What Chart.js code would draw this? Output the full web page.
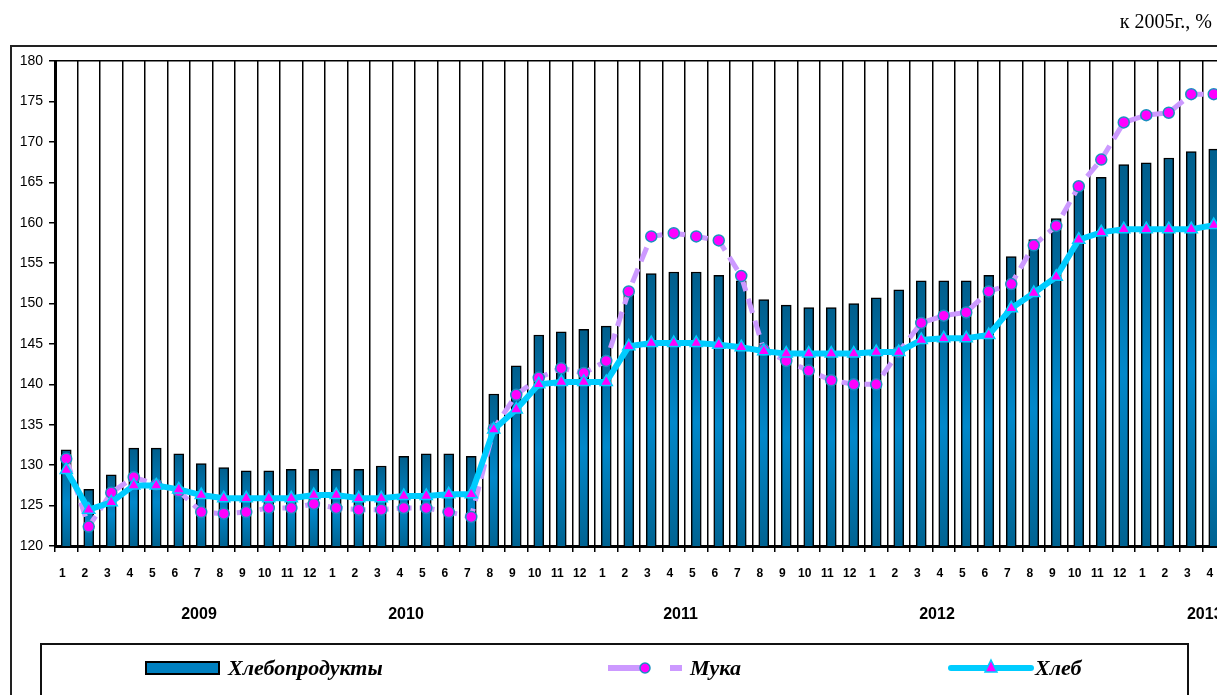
<!DOCTYPE html>
<html lang="ru">
<head>
<meta charset="utf-8">
<title>Хлебопродукты, мука, хлеб</title>
<script src="https://cdn.jsdelivr.net/npm/chart.js@4/dist/chart.umd.min.js"></script>
<style>
  html, body { margin: 0; padding: 0; background: #fff; overflow: hidden; }
  #wrap { position: relative; width: 1240px; height: 695px; }
</style>
</head>
<body>
<div id="wrap"><canvas id="chart"></canvas></div>
<script>
// месяцы 2009 - апрель 2013
const monthLabels = [
  '1','2','3','4','5','6','7','8','9','10','11','12',
  '1','2','3','4','5','6','7','8','9','10','11','12',
  '1','2','3','4','5','6','7','8','9','10','11','12',
  '1','2','3','4','5','6','7','8','9','10','11','12',
  '1','2','3','4'
];
const yearLabels = ['2009', '2010', '2011', '2012', '2013'];
const yearLabelAt = [5.9, 15.1, 27.3, 38.7, 50.6]; // индекс месяца, над которым стоит подпись года

const yTicks = [120, 125, 130, 135, 140, 145, 150, 155, 160, 165, 170, 175, 180];

// Хлебопродукты (столбцы)
const khleboprodukty = [
  131.9, 127.0, 128.8, 132.1, 132.1, 131.4, 130.2, 129.7, 129.3, 129.3, 129.5, 129.5,
  129.5, 129.5, 129.9, 131.1, 131.4, 131.4, 131.1, 138.8, 142.3, 146.1, 146.5, 146.8,
  147.2, 151.5, 153.7, 153.9, 153.9, 153.5, 152.8, 150.5, 149.8, 149.5, 149.5, 150.0,
  150.7, 151.7, 152.8, 152.8, 152.8, 153.5, 155.8, 157.9, 160.5, 164.8, 165.6, 167.2,
  167.4, 168.0, 168.8, 169.1
];

// Мука
const muka = [
  130.8, 122.4, 126.6, 128.5, 127.6, 126.8, 124.2, 124.0, 124.2, 124.7, 124.7, 125.2,
  124.7, 124.5, 124.5, 124.7, 124.7, 124.2, 123.6, 134.5, 138.7, 140.8, 142.0, 141.4,
  142.9, 151.5, 158.3, 158.7, 158.3, 157.8, 153.4, 144.3, 142.9, 141.7, 140.5, 140.0,
  140.0, 144.0, 147.6, 148.5, 148.9, 151.5, 152.4, 157.2, 159.6, 164.5, 167.8, 172.4,
  173.3, 173.6, 175.9, 175.9
];

// Хлеб
const khleb = [
  129.4, 124.5, 125.4, 127.5, 127.5, 127.0, 126.3, 125.9, 125.9, 125.9, 125.9, 126.3,
  126.3, 125.9, 125.9, 126.2, 126.2, 126.4, 126.4, 134.4, 136.9, 140.0, 140.3, 140.3,
  140.3, 144.7, 145.1, 145.1, 145.1, 144.9, 144.6, 144.1, 143.8, 143.8, 143.8, 143.8,
  144.0, 144.0, 145.5, 145.7, 145.7, 146.1, 149.4, 151.3, 153.3, 157.9, 158.8, 159.2,
  159.2, 159.2, 159.2, 159.7
];

const BAR_COLOR = '#0080c0';
const MUKA_COLOR = '#cc99ff';
const KHLEB_COLOR = '#00ccff';
const MARKER = '#ff00ff';
const SERIF = "'Liberation Serif', 'Times New Roman', serif";
const SANS = "'Liberation Sans', Arial, sans-serif";

Chart.defaults.font.family = SANS;
Chart.defaults.color = '#000';

// градиент столбца: темнее сверху и снизу, светлее ближе к низу
function barGradient(ctx) {
  const chart = ctx.chart;
  if (ctx.type !== 'data' || !chart.chartArea) return BAR_COLOR;
  const y = chart.scales.y;
  const top = y.getPixelForValue(ctx.raw);
  const bottom = y.bottom;
  const g = chart.ctx.createLinearGradient(0, top, 0, bottom);
  g.addColorStop(0, '#005e8c');
  g.addColorStop(0.55, '#0088cb');
  g.addColorStop(1, '#006392');
  return g;
}

// рамка, подпись единиц, годы и легенда
const decorPlugin = {
  id: 'decor',
  beforeDraw(chart) {
    const c = chart.ctx;
    c.save();
    c.fillStyle = '#fff';
    c.fillRect(0, 0, chart.width, chart.height);
    c.restore();
  },
  afterDraw(chart) {
    const c = chart.ctx;
    const x = chart.scales.x;
    c.save();

    // внешняя рамка
    c.strokeStyle = '#222';
    c.lineWidth = 2;
    c.beginPath();
    c.moveTo(11, chart.height);
    c.lineTo(11, 46);
    c.lineTo(chart.width, 46);
    c.stroke();

    // единицы
    c.fillStyle = '#000';
    c.font = '20px ' + SERIF;
    c.textAlign = 'right';
    c.textBaseline = 'alphabetic';
    c.fillText('к 2005г., %', 1212, 28);

    // годы
    c.font = 'bold 16px ' + SANS;
    c.textAlign = 'center';
    c.textBaseline = 'middle';
    yearLabels.forEach((t, i) => {
      c.fillText(t, x.getPixelForValue(yearLabelAt[i]), 615);
    });

    // легенда
    c.strokeStyle = '#111';
    c.lineWidth = 2;
    c.beginPath();
    c.moveTo(41, chart.height);
    c.lineTo(41, 644);
    c.lineTo(1188, 644);
    c.lineTo(1188, chart.height);
    c.stroke();

    const ly = 668;
    c.font = 'italic bold 22px ' + SERIF;
    c.textAlign = 'left';
    c.textBaseline = 'middle';

    // Хлебопродукты
    c.fillStyle = BAR_COLOR;
    c.fillRect(146, ly - 6, 73, 12);
    c.strokeStyle = '#000';
    c.lineWidth = 2;
    c.strokeRect(146, ly - 6, 73, 12);
    c.fillStyle = '#000';
    c.fillText(chart.data.datasets[0].label, 228, ly + 1);

    // Мука
    c.strokeStyle = MUKA_COLOR;
    c.lineWidth = 6;
    c.beginPath();
    c.moveTo(608, ly); c.lineTo(645, ly);
    c.moveTo(670, ly); c.lineTo(682, ly);
    c.stroke();
    c.beginPath();
    c.arc(645, ly, 5, 0, Math.PI * 2);
    c.fillStyle = MARKER;
    c.fill();
    c.strokeStyle = '#1a8fc0';
    c.lineWidth = 1.5;
    c.stroke();
    c.fillStyle = '#000';
    c.fillText(chart.data.datasets[1].label, 690, ly + 1);

    // Хлеб
    c.strokeStyle = KHLEB_COLOR;
    c.lineWidth = 6;
    c.lineCap = 'round';
    c.beginPath();
    c.moveTo(951, ly); c.lineTo(1031, ly);
    c.stroke();
    c.lineCap = 'butt';
    c.beginPath();
    c.moveTo(991, ly - 8);
    c.lineTo(997, ly + 4);
    c.lineTo(985, ly + 4);
    c.closePath();
    c.fillStyle = MARKER;
    c.fill();
    c.strokeStyle = KHLEB_COLOR;
    c.lineWidth = 1.5;
    c.stroke();
    c.fillStyle = '#000';
    c.fillText(chart.data.datasets[2].label, 1035, ly + 1);

    c.restore();
  }
};

new Chart(document.getElementById('chart'), {
  type: 'bar',
  data: {
    labels: monthLabels,
    datasets: [
      {
        type: 'bar',
        label: 'Хлебопродукты',
        data: khleboprodukty,
        backgroundColor: barGradient,
        borderColor: '#000',
        borderWidth: 1.5,
        barThickness: 10,
        order: 2
      },
      {
        type: 'line',
        label: 'Мука',
        data: muka,
        borderColor: MUKA_COLOR,
        borderWidth: 5,
        borderDash: [15, 8],
        tension: 0,
        pointStyle: 'circle',
        pointRadius: 5.5,
        pointBackgroundColor: MARKER,
        pointBorderColor: '#1a8fc0',
        pointBorderWidth: 1.5,
        order: 1
      },
      {
        type: 'line',
        label: 'Хлеб',
        data: khleb,
        borderColor: KHLEB_COLOR,
        borderWidth: 6,
        tension: 0,
        pointStyle: 'triangle',
        pointRadius: 7,
        pointBackgroundColor: MARKER,
        pointBorderColor: KHLEB_COLOR,
        pointBorderWidth: 1.5,
        order: 0
      }
    ]
  },
  options: {
    responsive: true,
    maintainAspectRatio: false,
    animation: false,
    layout: { padding: { left: 11, top: 61, right: 15, bottom: 109 } },
    plugins: {
      legend: { display: false },
      tooltip: { enabled: false },
      title: { display: false }
    },
    scales: {
      x: {
        offset: true,
        grid: {
          offset: true,
          color: '#000',
          lineWidth: 1.5,
          tickLength: 6,
          drawOnChartArea: true
        },
        border: { display: true, color: '#000', width: 3 },
        ticks: {
          autoSkip: false,
          maxRotation: 0,
          padding: 14,
          labelOffset: -4,
          font: { size: 12, weight: 'bold' },
          color: '#000'
        },
        afterFit(s) { s.height = 40; }
      },
      y: {
        min: 120,
        max: 180,
        afterBuildTicks(s) { s.ticks = yTicks.map(v => ({ value: v })); },
        grid: {
          color: ctx => (ctx.tick && ctx.tick.value === 180 ? '#000' : 'rgba(0,0,0,0)'),
          tickColor: '#000',
          lineWidth: 1.5,
          tickLength: 6
        },
        border: { display: true, color: '#000', width: 3 },
        ticks: {
          padding: 6,
          font: { size: 14 },
          color: '#000'
        },
        afterFit(s) { s.width = 44; }
      }
    }
  },
  plugins: [decorPlugin]
});
</script>
</body>
</html>
